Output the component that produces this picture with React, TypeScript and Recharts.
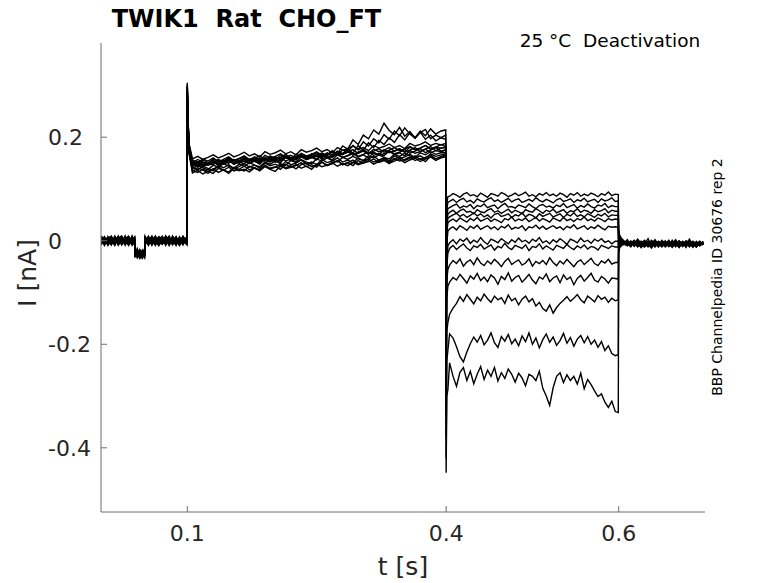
import React from 'react';
import { LineChart, Line, XAxis, YAxis } from 'recharts';

// time in ms, current in pA (axis labels show s and nA)
const preTimes = [0, 4, 8, 12, 16, 20, 24, 28, 32, 36, 39, 39.5, 42, 45, 48, 50.5, 51, 55, 59, 63, 67, 71, 75, 79, 83, 87, 91, 95, 99.5];
const pulseTimes = [100, 100.8, 102, 106, 112, 118, 124, 130, 136, 142, 148, 154, 160, 166, 172, 178, 184, 190, 196, 202, 208, 214, 220, 226, 232, 238, 244, 250, 256, 262, 268, 274, 280, 286, 292, 298, 304, 310, 316, 322, 328, 334, 340, 346, 352, 358, 364, 370, 376, 382, 388, 394, 399.5];
const stepTimes = [400, 400.8, 402, 404, 408, 412, 416, 420, 424, 428, 432, 436, 440, 444, 448, 452, 456, 460, 464, 468, 472, 476, 480, 484, 488, 492, 496, 500, 504, 508, 512, 516, 520, 524, 528, 532, 536, 540, 544, 548, 552, 556, 560, 564, 568, 572, 576, 580, 584, 588, 592, 596, 599.5];
const tailTimes = [600, 600.8, 603, 606, 610, 614, 618, 622, 626, 630, 634, 638, 642, 646, 650, 654, 658, 662, 666, 670, 674, 678, 682, 686, 690, 694, 698];

const preValues = [
  [3, -6, 8, -2, 5, -9, 1, 7, -4, 4, -3, -22, -30, -18, -27, -24, 6, -5, 9, -1, -8, 4, -3, 7, -6, 2, -9, 3, 5],
  [-5, 2, -8, 6, -1, 4, -7, 3, 9, -3, 5, -28, -19, -33, -25, -16, -4, 7, -2, 5, -9, 1, 8, -4, 3, -7, 6, -1, -3],
  [7, -1, 4, -7, 9, -4, 6, -2, -8, 2, -6, -17, -31, -26, -21, -29, 3, -8, 4, -3, 6, -6, 2, 9, -5, 1, -2, 7, 2],
  [-2, 8, -5, 1, -9, 7, -3, 5, 0, -6, 8, -30, -24, -20, -32, -19, -7, 2, -6, 8, -1, 5, -9, 3, -4, 7, -8, 4, -6],
  [1, -8, 5, 9, -3, 2, -6, 8, -5, 7, 1, -25, -15, -29, -23, -31, 9, -3, 6, -7, 2, -5, 8, -2, 6, -9, 4, -4, 8],
  [9, 3, -4, -7, 6, -2, 8, -5, 4, -9, -4, -19, -27, -34, -18, -26, 2, 5, -9, 1, 7, -3, -6, 5, -1, 8, -5, 2, -1],
  [-7, 5, 2, -3, 8, -6, 4, -9, 6, 1, 3, -32, -22, -24, -30, -20, -2, 9, -4, 6, -6, 0, 3, -8, 7, -2, 5, -7, 4],
  [5, -4, -1, 7, -8, 3, -2, 6, -6, 9, -8, -23, -29, -17, -26, -33, 5, -1, 3, -9, 4, 7, -5, 1, -7, 5, -3, 9, -5],
  [-3, 7, -9, 4, 2, 8, -7, -1, 5, -4, 6, -27, -18, -30, -34, -21, -5, 4, 7, -2, -9, 6, -1, -6, 9, -4, 2, -8, 7],
  [6, -9, 3, -5, -2, 5, 9, -3, -7, 8, -1, -20, -33, -23, -19, -28, 8, -6, 1, 8, -3, -7, 9, -5, 2, 6, -9, 1, -8],
  [-8, 1, 6, -4, 7, -7, -1, 4, 8, -2, 7, -31, -21, -27, -29, -17, -9, 6, -8, 3, 5, -4, 7, -9, 1, -3, 8, -6, 3],
  [4, 6, -3, 2, -6, 9, -8, 2, -2, 5, -5, -18, -26, -32, -22, -30, 4, -9, 5, -4, 8, 2, -7, 6, -2, -8, 3, 6, -4],
  [-1, -5, 7, -8, 4, -3, 5, -6, 3, -7, 4, -26, -30, -21, -33, -23, -6, 3, -5, 9, -6, -2, 5, -3, 8, -1, -7, -2, 6],
  [2, 4, -6, 5, -4, 1, -5, 9, -9, 3, -7, -24, -17, -28, -20, -32, 1, -4, 8, -6, 1, 9, -2, 4, -8, 3, -4, 8, -2],
];

const pulseValues = [
  [300, 235, 182, 150, 157, 152, 149, 158, 155, 151, 160, 154, 158, 162, 155, 159, 164, 157, 161, 156, 166, 160, 158, 167, 162, 159, 168, 163, 170, 164, 161, 169, 166, 172, 165, 169, 175, 168, 171, 166, 176, 170, 173, 178, 171, 175, 180, 172, 177, 182, 174, 179, 180],
  [285, 225, 175, 134, 141, 137, 130, 139, 143, 136, 133, 142, 138, 135, 144, 140, 137, 146, 139, 142, 148, 141, 145, 139, 147, 150, 143, 146, 152, 145, 149, 155, 147, 151, 156, 149, 153, 158, 152, 155, 160, 153, 157, 162, 155, 159, 164, 157, 161, 166, 158, 163, 165],
  [305, 240, 185, 147, 143, 151, 146, 149, 155, 148, 152, 157, 150, 154, 149, 158, 153, 156, 160, 152, 157, 162, 155, 159, 164, 157, 161, 156, 166, 160, 163, 168, 161, 165, 170, 163, 167, 172, 165, 169, 164, 174, 168, 171, 176, 169, 173, 178, 170, 175, 180, 173, 176],
  [270, 215, 168, 131, 136, 129, 134, 139, 132, 137, 130, 140, 135, 138, 133, 141, 136, 143, 138, 134, 145, 139, 142, 147, 140, 144, 138, 148, 143, 146, 151, 144, 149, 145, 152, 147, 150, 155, 148, 153, 157, 150, 154, 158, 151, 156, 160, 153, 158, 162, 155, 160, 162],
  [295, 232, 180, 153, 148, 156, 151, 147, 157, 153, 160, 155, 151, 159, 155, 162, 157, 154, 164, 158, 161, 167, 160, 163, 168, 161, 165, 170, 163, 167, 172, 166, 169, 174, 167, 171, 176, 169, 173, 178, 171, 175, 180, 174, 177, 182, 176, 179, 184, 177, 181, 186, 182],
  [280, 222, 172, 139, 145, 141, 137, 146, 142, 149, 144, 140, 148, 144, 151, 146, 143, 152, 148, 154, 149, 146, 155, 151, 157, 152, 149, 158, 154, 160, 155, 152, 161, 157, 163, 158, 155, 164, 160, 166, 161, 158, 167, 163, 169, 164, 161, 170, 166, 172, 167, 170, 170],
  [302, 238, 188, 158, 163, 157, 161, 166, 160, 164, 169, 162, 166, 171, 164, 168, 162, 172, 167, 170, 175, 168, 172, 166, 176, 171, 174, 179, 172, 176, 170, 180, 175, 178, 183, 176, 180, 174, 184, 179, 182, 187, 180, 184, 178, 188, 183, 186, 191, 184, 188, 185, 188],
  [290, 228, 176, 142, 137, 144, 140, 135, 145, 141, 147, 139, 143, 149, 142, 146, 140, 150, 145, 148, 143, 153, 147, 150, 156, 148, 152, 147, 157, 151, 154, 160, 152, 156, 150, 160, 155, 158, 163, 156, 160, 154, 164, 159, 162, 167, 160, 164, 158, 168, 163, 166, 168],
  [298, 234, 181, 146, 151, 144, 149, 153, 147, 150, 156, 148, 152, 157, 150, 154, 149, 159, 153, 156, 161, 154, 158, 152, 162, 157, 160, 165, 158, 162, 156, 166, 161, 164, 169, 162, 166, 160, 170, 165, 168, 173, 166, 170, 164, 174, 169, 172, 177, 170, 174, 172, 175],
  [288, 230, 184, 156, 151, 158, 154, 160, 152, 157, 162, 155, 159, 164, 157, 161, 155, 165, 160, 163, 168, 161, 165, 159, 169, 164, 167, 172, 165, 169, 163, 173, 168, 171, 176, 169, 173, 167, 177, 172, 175, 180, 173, 177, 171, 181, 176, 179, 184, 177, 181, 179, 181],
  [275, 218, 170, 136, 132, 138, 134, 130, 140, 136, 142, 135, 138, 144, 137, 141, 135, 145, 140, 143, 138, 148, 142, 145, 151, 143, 147, 142, 152, 146, 149, 155, 147, 151, 145, 155, 150, 153, 158, 151, 155, 149, 159, 154, 157, 162, 155, 159, 153, 163, 158, 161, 165],
  [296, 236, 183, 148, 153, 147, 151, 156, 149, 154, 158, 151, 155, 160, 153, 157, 151, 161, 156, 159, 154, 164, 158, 161, 167, 159, 163, 158, 168, 164, 174, 168, 183, 177, 195, 186, 204, 197, 214, 206, 227, 213, 205, 219, 202, 211, 198, 209, 215, 197, 204, 199, 204],
  [284, 226, 177, 143, 149, 144, 147, 152, 146, 150, 155, 148, 153, 157, 150, 154, 148, 158, 153, 156, 151, 161, 155, 158, 164, 157, 161, 167, 162, 166, 171, 168, 175, 172, 184, 176, 191, 183, 197, 189, 205, 196, 212, 203, 218, 206, 198, 210, 196, 204, 193, 199, 196],
  [292, 231, 179, 150, 145, 152, 148, 153, 147, 155, 150, 157, 152, 149, 158, 154, 160, 155, 152, 162, 157, 163, 159, 156, 166, 161, 167, 163, 160, 170, 166, 172, 168, 178, 169, 184, 175, 189, 180, 194, 186, 199, 190, 205, 195, 209, 199, 212, 203, 216, 206, 212, 214],
];

const stepValues = [
  [-60, 72, 85, 86, 91, 88, 84, 90, 93, 87, 89, 85, 92, 88, 84, 91, 89, 86, 93, 90, 85, 88, 92, 87, 90, 94, 86, 89, 85, 91, 88, 93, 87, 90, 86, 92, 89, 84, 91, 88, 93, 86, 90, 87, 92, 89, 85, 91, 88, 94, 87, 90, 89],
  [-80, 60, 74, 76, 80, 74, 79, 82, 75, 78, 73, 81, 77, 75, 80, 83, 76, 79, 74, 78, 82, 75, 79, 81, 74, 77, 80, 76, 83, 78, 75, 80, 77, 73, 79, 82, 76, 78, 81, 74, 79, 77, 82, 75, 78, 80, 74, 81, 77, 79, 83, 76, 77],
  [-100, 45, 62, 64, 68, 71, 63, 67, 65, 70, 62, 68, 66, 71, 64, 67, 69, 62, 68, 72, 65, 66, 63, 69, 67, 64, 71, 66, 62, 68, 70, 65, 67, 63, 69, 66, 72, 64, 67, 70, 63, 68, 65, 71, 66, 63, 69, 67, 72, 64, 68, 66, 66],
  [-120, 35, 51, 55, 59, 53, 58, 61, 55, 57, 52, 60, 56, 54, 59, 62, 55, 58, 53, 57, 61, 54, 59, 56, 52, 60, 57, 55, 62, 58, 53, 59, 56, 61, 54, 57, 60, 53, 58, 56, 62, 55, 59, 57, 53, 60, 56, 58, 62, 54, 59, 57, 57],
  [-140, 25, 43, 46, 50, 53, 47, 51, 45, 49, 54, 48, 52, 46, 50, 44, 51, 53, 47, 49, 52, 45, 50, 48, 54, 46, 51, 49, 44, 52, 47, 50, 53, 46, 49, 52, 45, 51, 48, 54, 47, 50, 46, 52, 49, 45, 51, 48, 53, 46, 50, 49, 49],
  [-160, 15, 34, 38, 42, 37, 44, 40, 36, 43, 39, 45, 38, 41, 44, 37, 42, 39, 35, 43, 40, 46, 38, 42, 39, 44, 37, 41, 45, 38, 43, 40, 36, 44, 41, 38, 45, 39, 42, 37, 43, 40, 46, 39, 42, 38, 44, 41, 37, 43, 40, 42, 41],
  [-190, -5, 18, 23, 27, 21, 29, 25, 20, 28, 24, 30, 22, 26, 29, 23, 27, 21, 28, 25, 31, 22, 26, 24, 29, 20, 27, 25, 30, 23, 28, 22, 26, 29, 24, 27, 21, 28, 25, 31, 23, 26, 29, 22, 27, 24, 30, 25, 21, 28, 26, 27, 26],
  [-230, -35, -10, -4, 2, -6, 3, -1, 5, -5, 1, -3, 6, -2, -7, 3, 0, -4, 4, -1, -6, 2, -3, 5, -2, 1, -5, 3, -1, 6, -4, 0, -6, 2, -3, 4, -1, -7, 3, 0, -4, 5, -2, 1, -5, 3, -1, 4, -3, 0, -6, -1, -1],
  [-250, -50, -24, -15, -9, -17, -11, -6, -14, -19, -10, -13, -7, -16, -12, -8, -18, -11, -14, -5, -13, -17, -9, -12, -15, -8, -19, -11, -13, -6, -16, -10, -14, -18, -9, -12, -15, -7, -13, -17, -10, -14, -8, -16, -11, -13, -18, -9, -12, -15, -10, -12, -12],
  [-290, -75, -56, -47, -38, -44, -35, -49, -41, -37, -46, -33, -43, -48, -39, -45, -36, -42, -50, -40, -34, -46, -41, -37, -47, -43, -35, -49, -40, -44, -38, -46, -33, -42, -48, -39, -45, -36, -43, -50, -41, -37, -46, -40, -34, -44, -48, -39, -43, -36, -45, -42, -42],
  [-330, -110, -88, -80, -71, -76, -65, -73, -82, -68, -74, -63, -77, -70, -79, -66, -72, -84, -69, -75, -62, -78, -71, -67, -80, -73, -65, -76, -83, -70, -74, -64, -79, -72, -68, -81, -66, -75, -70, -85, -73, -67, -78, -71, -63, -76, -80, -69, -74, -82, -72, -73, -74],
  [-380, -175, -158, -142, -130, -121, -108, -117, -104, -113, -122, -109, -116, -103, -112, -119, -107, -114, -110, -121, -105, -116, -111, -124, -113, -107, -118, -112, -126, -119, -131, -136, -124, -140, -129, -121, -115, -108, -117, -111, -104, -114, -120, -107, -112, -118, -106, -113, -109, -119, -111, -116, -114],
  [-420, -232, -212, -180, -188, -205, -224, -234, -215, -199, -186, -196, -183, -201, -192, -178, -197, -206, -185, -194, -181, -199, -190, -203, -184, -195, -178, -200, -188, -207, -191, -180, -196, -186, -202, -193, -179, -198, -187, -204, -190, -183, -197, -185, -200, -192, -206, -195, -212, -203, -218, -222, -220],
  [-448, -300, -288, -236, -262, -281, -254, -245, -270, -252, -276, -258, -243, -268, -250, -262, -245, -271, -255, -266, -248, -258, -273, -256, -265, -280, -258, -262, -270, -252, -285, -300, -318, -284, -262, -255, -274, -259, -270, -262, -277, -256, -286, -268, -278, -290, -301, -296, -312, -322, -310, -330, -332],
];

const tailValues = [
  [-22, -15, -9, -5, 2, -8, -3, -11, -1, -6, 4, -9, -4, -12, -2, -7, 1, -10, -5, -3, -9, 0, -6, -13, -4, -8, -2],
  [-18, -11, -6, -3, -9, -1, -6, 3, -8, -12, -3, -7, 0, -10, -5, -2, -11, -6, 2, -8, -4, -13, -1, -7, -9, -3, -6],
  [-16, -12, -4, -8, -2, -10, -5, -1, -13, -4, -8, 1, -6, -3, -11, -7, -1, -9, -4, -12, -2, -6, 3, -10, -5, -8, -1],
  [-14, -8, -7, -1, -6, -12, 0, -5, -9, -2, -7, -14, -3, -8, 1, -6, -10, -4, -8, -1, -11, -5, -7, -2, -12, -4, -7],
  [-12, -7, -2, -6, -10, -3, -8, 2, -5, -11, -4, -1, -9, -6, -12, -2, -7, -3, -10, 0, -6, -9, -4, -11, -1, -8, -5],
  [-10, -9, -5, -2, -7, -1, -11, -4, -8, -3, -12, -6, 2, -7, -4, -10, -1, -8, -5, -13, -3, -7, 0, -9, -6, -2, -8],
  [-6, -4, -10, -5, -1, -8, -4, -12, -6, 0, -9, -3, -7, -11, -2, -5, -9, 1, -7, -4, -10, -6, -2, -8, -12, -3, -6],
  [2, -3, -1, -7, -4, -10, -2, -6, -13, -5, -1, -8, -3, -9, -6, 0, -11, -4, -7, -2, -9, -5, -12, -3, -6, -1, -7],
  [5, 1, -4, -2, -8, -5, 1, -9, -3, -7, -11, -4, -1, -6, -10, -3, -8, -5, -12, -1, -6, -9, -2, -7, -4, -10, -3],
  [8, 3, 0, -4, -1, -7, -3, -10, -5, 1, -8, -4, -12, -2, -7, -5, -9, -1, -6, -11, -3, -8, -4, -2, -9, -5, -7],
  [11, 6, 2, -3, -6, -1, -9, -4, -7, -2, -10, -5, -1, -8, -3, -12, -6, -2, -9, -4, -7, -1, -10, -5, -3, -8, -4],
  [14, 8, -1, -5, -2, -9, -4, 0, -7, -11, -3, -6, -9, -1, -5, -8, -2, -10, -6, -3, -11, -4, -8, -1, -6, -9, -5],
  [18, 10, 3, -2, -7, -3, -10, -5, -1, -8, -4, -12, -6, -2, -9, -3, -7, -11, -1, -5, -8, -2, -6, -10, -4, -7, -3],
  [20, 12, 5, 0, -5, -9, -2, -6, -11, -3, -7, -1, -10, -5, -8, -2, -6, -13, -4, -9, -1, -7, -3, -11, -5, -2, -8],
];

const xTicks = [100, 400, 600];
const xTickLabels = ['0.1', '0.4', '0.6'];
const yTicks = [-400, -200, 0, 200];
const yTickLabels = ['-0.4', '-0.2', '0', '0.2'];

const times = [...preTimes, ...pulseTimes, ...stepTimes, ...tailTimes];
const traces = preValues.map((p, k) => [...p, ...pulseValues[k], ...stepValues[k], ...tailValues[k]]);
const rows = times.map((t, i) => {
  const row: Record<string, number> = { t };
  traces.forEach((v, k) => {
    row['s' + k] = v[i];
  });
  return row;
});

const font = '"DejaVu Sans", sans-serif';
const axisColor = '#6e6e6e';
const tickText = '#262626';

const XTick = (props: any) => {
  const { x, y, payload } = props;
  const label = xTickLabels[xTicks.indexOf(payload.value)];
  return (
    <g>
      <line x1={x} y1={y} x2={x} y2={y - 6} stroke={axisColor} />
      <text x={x} y={y + 29} textAnchor="middle" fontSize={22} fill={tickText} fontFamily={font}>
        {label}
      </text>
    </g>
  );
};

const YTick = (props: any) => {
  const { x, y, payload } = props;
  const label = yTickLabels[yTicks.indexOf(payload.value)];
  return (
    <g>
      <line x1={x} y1={y} x2={x + 6} y2={y} stroke={axisColor} />
      <text x={x - 53} y={y + 8} textAnchor="start" fontSize={22} fill={tickText} fontFamily={font}>
        {label}
      </text>
    </g>
  );
};

export default function App() {
  return (
    <div style={{ position: 'absolute', left: 0, top: 0, width: 778, height: 583, background: '#fff' }}>
      <LineChart width={778} height={583} data={rows} margin={{ top: 43, right: 73, bottom: 0, left: 0 }}>
        <XAxis
          dataKey="t"
          type="number"
          domain={[0, 700]}
          ticks={xTicks}
          height={71}
          tickSize={0}
          tickMargin={0}
          tickLine={false}
          axisLine={{ stroke: axisColor }}
          tick={<XTick />}
          allowDataOverflow
        />
        <YAxis
          type="number"
          domain={[-524, 382]}
          ticks={yTicks}
          width={101}
          tickSize={0}
          tickMargin={0}
          tickLine={false}
          axisLine={{ stroke: axisColor }}
          tick={<YTick />}
          allowDataOverflow
        />
        {traces.map((_, k) => (
          <Line
            key={k}
            dataKey={'s' + k}
            type="linear"
            stroke="#000"
            strokeWidth={1.4}
            dot={false}
            isAnimationActive={false}
          />
        ))}
      </LineChart>
      <svg width={778} height={583} style={{ position: 'absolute', left: 0, top: 0, pointerEvents: 'none' }}>
        <text x={246.5} y={27} textAnchor="middle" fontSize={24} fontWeight="bold" fill="#000" fontFamily={font} style={{ whiteSpace: 'pre' }}>
          TWIK1  Rat  CHO_FT
        </text>
        <text x={610} y={47} textAnchor="middle" fontSize={18.5} fill="#000" fontFamily={font} style={{ whiteSpace: 'pre' }}>
          25 °C  Deactivation
        </text>
        <text transform="translate(722,277) rotate(-90)" textAnchor="middle" fontSize={14} fill="#000" fontFamily={font}>
          BBP Channelpedia ID 30676 rep 2
        </text>
        <text transform="translate(36,273) rotate(-90)" textAnchor="middle" fontSize={25} fill={tickText} fontFamily={font}>
          I [nA]
        </text>
        <text x={403} y={575} textAnchor="middle" fontSize={25} fill={tickText} fontFamily={font}>
          t [s]
        </text>
      </svg>
    </div>
  );
}
